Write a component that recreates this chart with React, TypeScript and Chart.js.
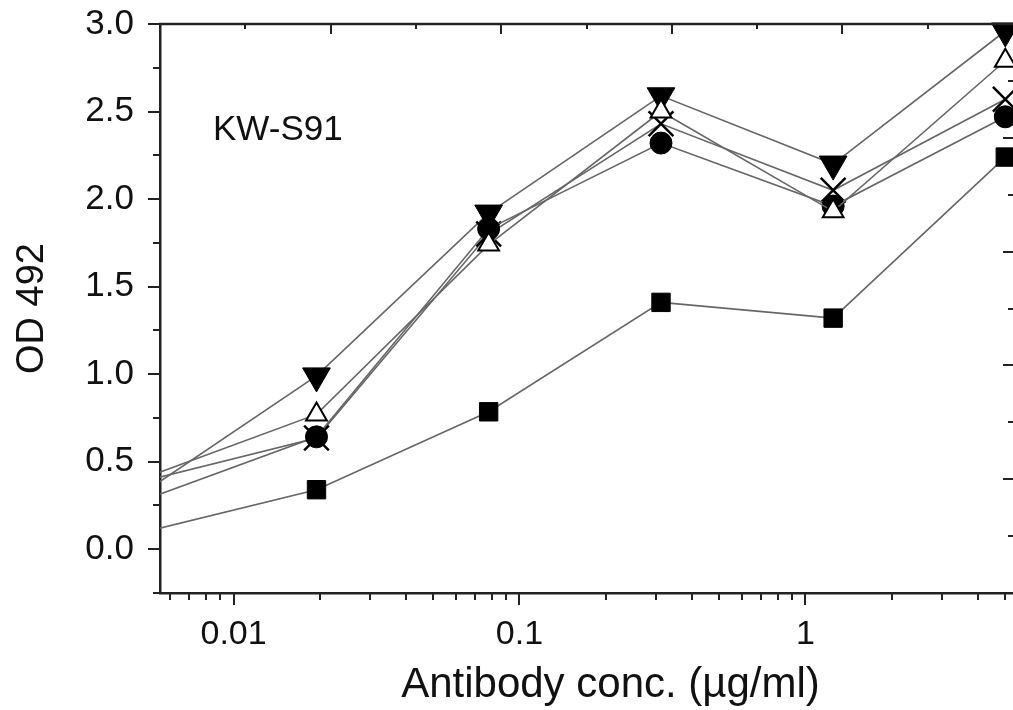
import React, { useEffect, useRef } from 'react';
import { Chart, registerables } from 'chart.js';

Chart.register(...registerables);

// ---- data ----
const concentrations = [0.00488, 0.0195, 0.078, 0.3125, 1.25, 5];
const odDownTriangle = [0.327, 0.99, 1.92, 2.59, 2.2, 2.96];
const odOpenTriangle = [0.408, 0.77, 1.74, 2.5, 1.93, 2.79];
const odCross = [0.39, 0.635, 1.8, 2.43, 2.05, 2.57];
const odCircle = [0.282, 0.642, 1.83, 2.32, 1.96, 2.47];
const odSquare = [0.099, 0.34, 0.785, 1.41, 1.32, 2.24];

const xTickValues = [0.01, 0.1, 1];
const yTickValues = [0, 0.5, 1, 1.5, 2, 2.5, 3];
const panelLabel = 'KW-S91';
const xTitle = 'Antibody conc. (\u00b5g/ml)';
const yTitle = 'OD 492';

const FONT = "'Liberation Sans', Arial, Helvetica, sans-serif";
const AXIS = '#222';
const LINE = '#666';

const toPoints = (ys: number[]) => concentrations.map((x, i) => ({ x, y: ys[i] }));

const decorPlugin = {
  id: 'decor',
  afterDraw(chart: any) {
    const { ctx, chartArea: a, scales } = chart;
    const x = scales.x;
    const y = scales.y;
    const xt = scales.xTop;
    const yr = scales.yRight;
    ctx.save();
    ctx.strokeStyle = AXIS;
    ctx.lineWidth = 2;
    ctx.beginPath();
    // bottom log ticks (outward)
    const e0 = Math.floor(Math.log10(x.min));
    const e1 = Math.ceil(Math.log10(x.max));
    for (let e = e0; e <= e1; e++) {
      for (let k = 1; k <= 9; k++) {
        const v = k * Math.pow(10, e);
        if (v < x.min || v > x.max) continue;
        const px = Math.round(x.getPixelForValue(v));
        const len = k === 1 ? 12 : 7;
        ctx.moveTo(px, a.bottom);
        ctx.lineTo(px, a.bottom + len);
      }
    }
    // left ticks (outward)
    for (let v = y.min; v <= y.max + 1e-9; v += 0.25) {
      const py = Math.round(y.getPixelForValue(v));
      const major = Math.abs(v * 2 - Math.round(v * 2)) < 1e-6;
      const len = major ? 12 : 7;
      ctx.moveTo(a.left, py);
      ctx.lineTo(a.left - len, py);
    }
    // top ticks (inward)
    for (let v = xt.min + 1; v < xt.max; v++) {
      const px = Math.round(xt.getPixelForValue(v));
      const len = v % 2 === 0 ? 10 : 5;
      ctx.moveTo(px, a.top);
      ctx.lineTo(px, a.top + len);
    }
    // right ticks (inward)
    for (let v = yr.min + 1; v < yr.max; v++) {
      const py = Math.round(yr.getPixelForValue(v));
      const len = v % 2 === 0 ? 10 : 5;
      ctx.moveTo(a.right, py);
      ctx.lineTo(a.right - len, py);
    }
    ctx.stroke();
    // top border
    ctx.lineWidth = 2.5;
    ctx.beginPath();
    ctx.moveTo(a.left - 1, a.top);
    ctx.lineTo(a.right, a.top);
    ctx.stroke();
    ctx.fillStyle = '#111';
    // panel label
    ctx.font = `35px ${FONT}`;
    ctx.textAlign = 'left';
    ctx.textBaseline = 'alphabetic';
    ctx.fillText(panelLabel, a.left + 53, a.top + 116);
    // x axis title
    ctx.font = `42px ${FONT}`;
    ctx.textAlign = 'center';
    ctx.fillText(xTitle, (a.left + a.right) / 2 + 24, a.bottom + 104);
    ctx.restore();
  },
};

const common = {
  showLine: true,
  borderColor: LINE,
  borderWidth: 1.6,
  xAxisID: 'x',
  yAxisID: 'y',
  clip: { left: 0, top: 4, right: 30, bottom: 0 },
};

export default function App() {
  const ref = useRef<HTMLCanvasElement | null>(null);
  useEffect(() => {
    if (!ref.current) return;
    const chart = new Chart(ref.current, {
      type: 'line',
      data: {
        datasets: [
          {
            ...common,
            label: 'open triangle',
            data: toPoints(odOpenTriangle),
            pointStyle: 'triangle',
            pointRadius: 12,
            pointBackgroundColor: '#fff',
            pointBorderColor: '#000',
            pointBorderWidth: 2,
          },
          {
            ...common,
            label: 'circle',
            data: toPoints(odCircle),
            pointStyle: 'circle',
            pointRadius: 11,
            pointBackgroundColor: '#000',
            pointBorderColor: '#000',
            pointBorderWidth: 1,
          },
          {
            ...common,
            label: 'cross',
            data: toPoints(odCross),
            pointStyle: 'crossRot',
            pointRadius: 17.5,
            pointBackgroundColor: '#000',
            pointBorderColor: '#000',
            pointBorderWidth: 2.5,
          },
          {
            ...common,
            label: 'down triangle',
            data: toPoints(odDownTriangle),
            pointStyle: 'triangle',
            pointRotation: 180,
            pointRadius: 16,
            pointBackgroundColor: '#000',
            pointBorderColor: '#000',
            pointBorderWidth: 1,
          },
          {
            ...common,
            label: 'square',
            data: toPoints(odSquare),
            pointStyle: 'rect',
            pointRadius: 13,
            pointBackgroundColor: '#000',
            pointBorderColor: '#000',
            pointBorderWidth: 1,
          },
        ] as any,
      },
      options: {
        animation: false,
        responsive: false,
        events: [],
        layout: { autoPadding: false, padding: { top: 24, left: 0, right: 0, bottom: 0 } },
        plugins: {
          legend: { display: false },
          tooltip: { enabled: false },
          title: { display: false },
        },
        scales: {
          x: {
            type: 'logarithmic',
            position: 'bottom',
            min: 0.00553,
            max: 5.32,
            grid: { display: false, drawTicks: true, tickLength: 21 },
            border: { display: true, color: AXIS, width: 2.5 },
            afterBuildTicks: (scale: any) => {
              scale.ticks = xTickValues.map((v) => ({ value: v }));
            },
            afterFit: (scale: any) => {
              scale.height = 117;
            },
            ticks: {
              padding: 0,
              color: '#111',
              font: { family: FONT, size: 34 },
              maxRotation: 0,
              autoSkip: false,
              callback: (v: any) => String(v),
            },
            title: { display: false },
          },
          y: {
            type: 'linear',
            position: 'left',
            min: -0.25,
            max: 3.0,
            grid: { display: false, drawTicks: true, tickLength: 26 },
            border: { display: true, color: AXIS, width: 2.5 },
            afterBuildTicks: (scale: any) => {
              scale.ticks = yTickValues.map((v) => ({ value: v }));
            },
            afterFit: (scale: any) => {
              scale.width = 160;
            },
            ticks: {
              padding: 0,
              color: '#111',
              font: { family: FONT, size: 35 },
              autoSkip: false,
              callback: (v: any) => Number(v).toFixed(1),
            },
            title: {
              display: true,
              text: yTitle,
              color: '#111',
              font: { family: FONT, size: 38 },
              padding: { top: 10, bottom: 0 },
            },
          },
          xTop: {
            type: 'linear',
            position: 'top',
            display: false,
            min: 0,
            max: 10,
          },
          yRight: {
            type: 'linear',
            position: 'right',
            display: false,
            min: 0,
            max: 10,
          },
        },
      } as any,
      plugins: [decorPlugin],
    });
    return () => chart.destroy();
  }, []);

  return (
    <div style={{ position: 'absolute', left: 0, top: 0, width: 1013, height: 710, overflow: 'hidden', background: '#fff' }}>
      <canvas ref={ref} width={1013} height={710} style={{ display: 'block' }} />
    </div>
  );
}
